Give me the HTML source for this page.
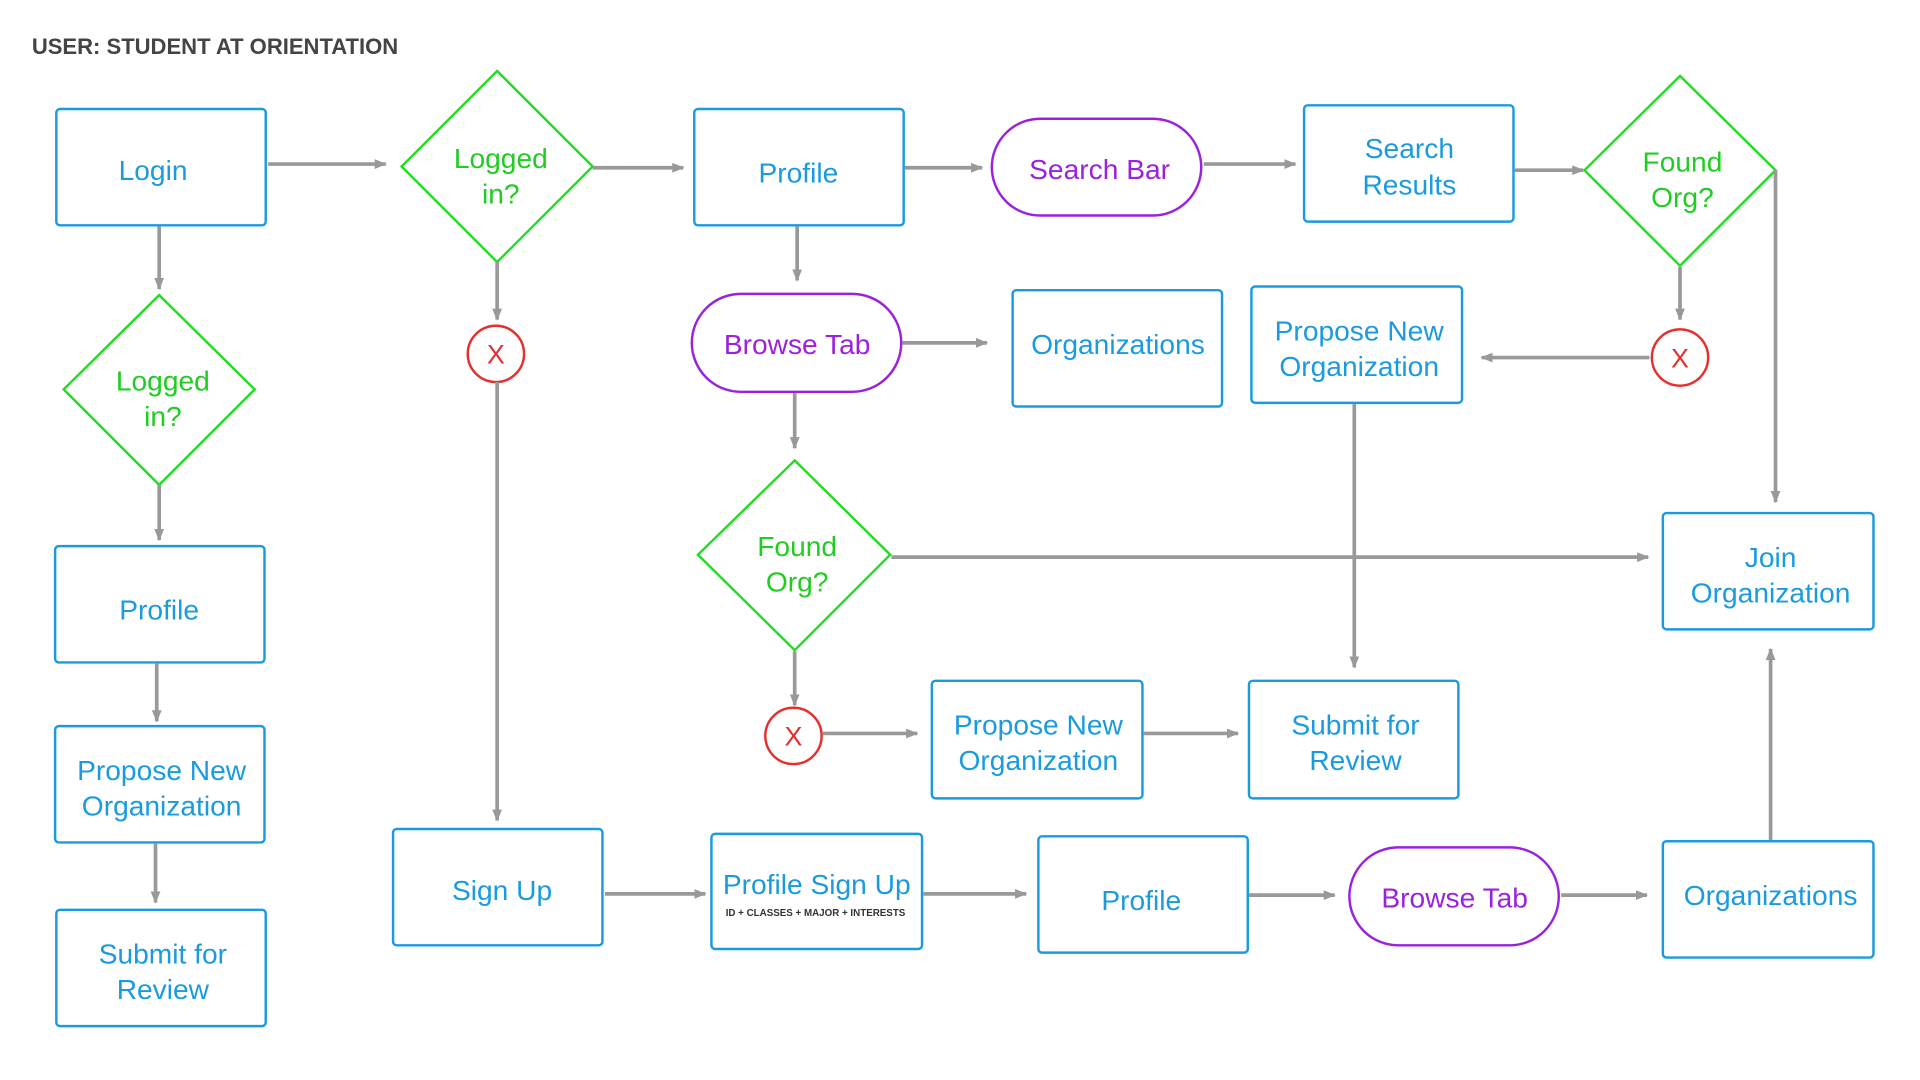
<!DOCTYPE html>
<html><head><meta charset="utf-8"><style>
html,body{margin:0;padding:0;background:#fff;width:1920px;height:1080px;overflow:hidden}
svg{display:block}
text{font-family:"Liberation Sans",sans-serif}
</style></head><body>
<svg width="1920" height="1080" viewBox="0 0 1568 882" preserveAspectRatio="none" xmlns="http://www.w3.org/2000/svg">
<defs><marker id="a" markerWidth="10" markerHeight="8" refX="9" refY="4" orient="auto" markerUnits="userSpaceOnUse"><path d="M0,0 L10,4 L0,8 z" fill="#999"/></marker></defs>
<text x="26" y="44" font-size="18" font-weight="bold" fill="#444">USER: STUDENT AT ORIENTATION</text>
<g fill="none" stroke="#1a9be0" stroke-width="2">
<rect x="46" y="89" width="171" height="95" rx="3"/>
<rect x="567" y="89" width="171" height="95" rx="3"/>
<rect x="1065" y="86" width="171" height="95" rx="3"/>
<rect x="45" y="446" width="171" height="95" rx="3"/>
<rect x="45" y="593" width="171" height="95" rx="3"/>
<rect x="46" y="743" width="171" height="95" rx="3"/>
<rect x="827" y="237" width="171" height="95" rx="3"/>
<rect x="1022" y="234" width="172" height="95" rx="3"/>
<rect x="1358" y="419" width="172" height="95" rx="3"/>
<rect x="761" y="556" width="172" height="96" rx="3"/>
<rect x="1020" y="556" width="171" height="96" rx="3"/>
<rect x="321" y="677" width="171" height="95" rx="3"/>
<rect x="581" y="681" width="172" height="94" rx="3"/>
<rect x="848" y="683" width="171" height="95" rx="3"/>
<rect x="1358" y="687" width="172" height="95" rx="3"/>
</g>
<g fill="none" stroke="#9b22dd" stroke-width="2">
<rect x="810" y="97" width="171" height="79" rx="39.5"/>
<rect x="565" y="240" width="171" height="80" rx="40"/>
<rect x="1102" y="692" width="171" height="80" rx="40"/>
</g>
<g fill="none" stroke="#22dd22" stroke-width="2">
<polygon points="406,58 484,136 406,214 328,136"/>
<polygon points="1372,62 1450,139 1372,217 1294,139"/>
<polygon points="130,241 208,318 130,396 52,318"/>
<polygon points="649,376 727,453 649,531 570,453"/>
</g>
<g fill="none" stroke="#e53030" stroke-width="2">
<circle cx="405" cy="289" r="23"/><circle cx="1372" cy="292" r="23"/><circle cx="648" cy="601" r="23"/>
</g>
<g font-size="22" fill="#e53030" text-anchor="middle">
<text x="405" y="297">X</text><text x="1372" y="300">X</text><text x="648" y="609">X</text>
</g>
<g stroke="#999" stroke-width="3" fill="none" marker-end="url(#a)">
<line x1="219" y1="134" x2="315" y2="134"/>
<line x1="484" y1="137" x2="558" y2="137"/>
<line x1="739" y1="137" x2="802" y2="137"/>
<line x1="983" y1="134" x2="1058" y2="134"/>
<line x1="1237" y1="139" x2="1293" y2="139"/>
<line x1="1450" y1="139" x2="1450" y2="410"/>
<line x1="130" y1="185" x2="130" y2="236"/>
<line x1="130" y1="396" x2="130" y2="441"/>
<line x1="128" y1="542" x2="128" y2="589"/>
<line x1="127" y1="689" x2="127" y2="737"/>
<line x1="406" y1="214" x2="406" y2="261"/>
<line x1="406" y1="312" x2="406" y2="670"/>
<line x1="651" y1="185" x2="651" y2="229"/>
<line x1="737" y1="280" x2="806" y2="280"/>
<line x1="649" y1="321" x2="649" y2="366"/>
<line x1="1347" y1="292" x2="1210" y2="292"/>
<line x1="1372" y1="218" x2="1372" y2="261"/>
<line x1="728" y1="455" x2="1346" y2="455"/>
<line x1="1106" y1="330" x2="1106" y2="545"/>
<line x1="649" y1="532" x2="649" y2="576"/>
<line x1="672" y1="599" x2="749" y2="599"/>
<line x1="934" y1="599" x2="1011" y2="599"/>
<line x1="494" y1="730" x2="576" y2="730"/>
<line x1="754" y1="730" x2="838" y2="730"/>
<line x1="1020" y1="731" x2="1090" y2="731"/>
<line x1="1275" y1="731" x2="1345" y2="731"/>
<line x1="1446" y1="686" x2="1446" y2="530"/>
</g>
<g font-size="23" fill="#1a9be0" text-anchor="middle">
<text x="125" y="147">Login</text>
<text x="652" y="149">Profile</text>
<text x="1151" y="129">Search</text><text x="1151" y="159">Results</text>
<text x="130" y="506">Profile</text>
<text x="132" y="637">Propose New</text><text x="132" y="666">Organization</text>
<text x="133" y="787">Submit for</text><text x="133" y="816">Review</text>
<text x="913" y="289">Organizations</text>
<text x="1110" y="278">Propose New</text><text x="1110" y="307">Organization</text>
<text x="1446" y="463">Join</text><text x="1446" y="492">Organization</text>
<text x="848" y="600">Propose New</text><text x="848" y="629">Organization</text>
<text x="1107" y="600">Submit for</text><text x="1107" y="629">Review</text>
<text x="410" y="735">Sign Up</text>
<text x="667" y="730">Profile Sign Up</text>
<text x="932" y="743">Profile</text>
<text x="1446" y="739">Organizations</text>
</g>
<text x="666" y="748" font-size="8" font-weight="bold" fill="#333" text-anchor="middle">ID + CLASSES + MAJOR + INTERESTS</text>
<g font-size="23" fill="#9b22dd" text-anchor="middle">
<text x="898" y="146">Search Bar</text>
<text x="651" y="289">Browse Tab</text>
<text x="1188" y="741">Browse Tab</text>
</g>
<g font-size="23" fill="#22cc22" text-anchor="middle">
<text x="409" y="137">Logged</text><text x="409" y="166">in?</text>
<text x="1374" y="140">Found</text><text x="1374" y="169">Org?</text>
<text x="133" y="319">Logged</text><text x="133" y="348">in?</text>
<text x="651" y="454">Found</text><text x="651" y="483">Org?</text>
</g>
</svg>
</body></html>
